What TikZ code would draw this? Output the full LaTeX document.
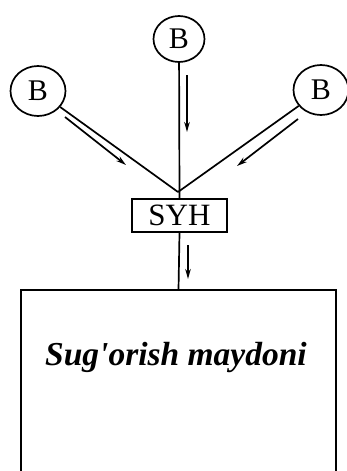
\documentclass[tikz,border=0pt]{standalone}
\usepackage{fontspec}
\setmainfont{Liberation Serif}
\usetikzlibrary{arrows.meta,positioning,shapes.geometric,calc}
\tikzset{
  bnode/.style={
    draw,
    ellipse,
    line width=1.7pt,
    minimum width=55pt,
    minimum height=50pt,
    inner sep=0pt,
    font=\fontsize{30}{30}\selectfont
  },
  syhbox/.style={
    draw,
    line width=1.4pt,
    minimum width=95pt,
    minimum height=33pt,
    inner sep=0pt,
    font=\fontsize{31}{31}\selectfont
  },
  fieldbox/.style={
    minimum width=315pt,
    minimum height=185pt,
    inner sep=0pt
  },
  link/.style={
    draw,
    line width=1.7pt
  },
  flow/.style={
    -{Stealth[length=10pt,width=5.5pt]},
    line width=1.7pt
  }
}

\begin{document}
\begin{tikzpicture}[x=1pt,y=-1pt]
\useasboundingbox (0,0) rectangle (347,471);

% sources
\node[bnode, minimum width=51pt, minimum height=46pt] (btop) at (179,39) {B};
\node[bnode] (bleft) at (38,91) {B};
\node[bnode] (bright) at (321,90) {B};

\coordinate (junc) at (178,192);
\node[syhbox] (syh) at (179.5,215.5) {SYH};

% irrigated field, open at the bottom edge of the picture
\node[fieldbox, anchor=north] (field) at (178.5,290) {};
\node[font=\fontsize{33.5}{33.5}\selectfont\bfseries\itshape] (fieldname) at (176,357) {Sug\textquotesingle orish maydoni};
\draw[line width=2.2pt] (field.south west) -- (field.north west) -- (field.north east) -- (field.south east);

\draw[link] (btop) -- (syh.north);
\draw[link] (bleft) -- (junc);
\draw[link] (bright) -- (junc);
\draw[link] (syh.south) -- (field.north);

% flow directions
\coordinate (ftop1) at (187,75);   \coordinate (ftop2) at (187,132);
\coordinate (fleft1) at (65,117);  \coordinate (fleft2) at (126,165);
\coordinate (fright1) at (298,119); \coordinate (fright2) at (237,166);
\coordinate (fbot1) at (188,245);  \coordinate (fbot2) at (188,279);
\draw[flow] (ftop1) -- (ftop2);
\draw[flow] (fleft1) -- (fleft2);
\draw[flow] (fright1) -- (fright2);
\draw[flow] (fbot1) -- (fbot2);

\end{tikzpicture}
\end{document}
